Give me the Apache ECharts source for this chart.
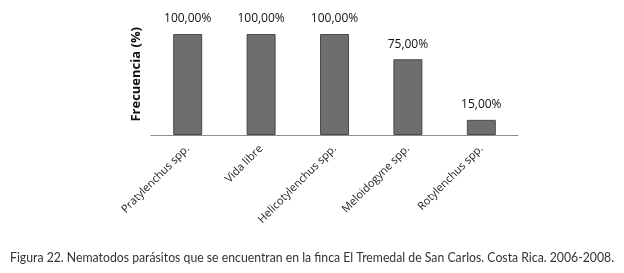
<!DOCTYPE html>
<html>
<head>
<meta charset="utf-8">
<script src="https://cdn.jsdelivr.net/npm/echarts@6/dist/echarts.min.js"></script>
<style>
html, body { margin: 0; padding: 0; background: #fff; }
#chart { width: 624px; height: 273px; }
</style>
</head>
<body>
<div id="chart"></div>
<script>
var categories = ['Pratylenchus spp.', 'Vida libre', 'Helicotylenchus spp.', 'Meloidogyne spp.', 'Rotylenchus spp.'];
var frecuencia = [100, 100, 100, 75, 15];

var chart = echarts.init(document.getElementById('chart'));
var option = {
    backgroundColor: '#fff',
    animation: false,
    grid: {
        left: 151,
        right: 106,
        top: 34,
        bottom: 138
    },
    xAxis: {
        type: 'category',
        data: categories,
        axisLine: { lineStyle: { color: '#8c8c8c', width: 1 } },
        axisTick: { show: false },
        axisLabel: {
            rotate: 45,
            interval: 0,
            margin: 12,
            color: '#222',
            fontFamily: 'Open Sans',
            fontSize: 11
        }
    },
    yAxis: {
        type: 'value',
        min: 0,
        max: 100,
        axisLine: { show: false },
        axisTick: { show: false },
        axisLabel: { show: false },
        splitLine: { show: false }
    },
    graphic: [
        {
            type: 'text',
            left: 130,
            top: 27,
            rotation: Math.PI / 2,
            style: {
                text: 'Frecuencia (%)',
                fill: '#111',
                font: 'bold 13px "Open Sans"'
            }
        },
        {
            // pie de figura
            type: 'text',
            left: 10,
            top: 250,
            scaleX: 0.875,
            style: {
                text: 'Figura 22. Nematodos parásitos que se encuentran en la finca El Tremedal de San Carlos. Costa Rica. 2006-2008.',
                fill: '#333',
                font: '14px Lato'
            }
        }
    ],
    series: [
        {
            type: 'bar',
            data: frecuencia,
            barWidth: 29,
            itemStyle: {
                color: '#6e6e6e',
                borderColor: '#4a4a4a',
                borderWidth: 1
            },
            label: {
                show: true,
                position: 'top',
                distance: 9,
                color: '#111',
                fontFamily: 'Open Sans',
                fontSize: 12,
                formatter: function (p) {
                    return p.value.toFixed(2).replace('.', ',') + '%';
                }
            }
        }
    ]
};
chart.setOption(option);
</script>
</body>
</html>
